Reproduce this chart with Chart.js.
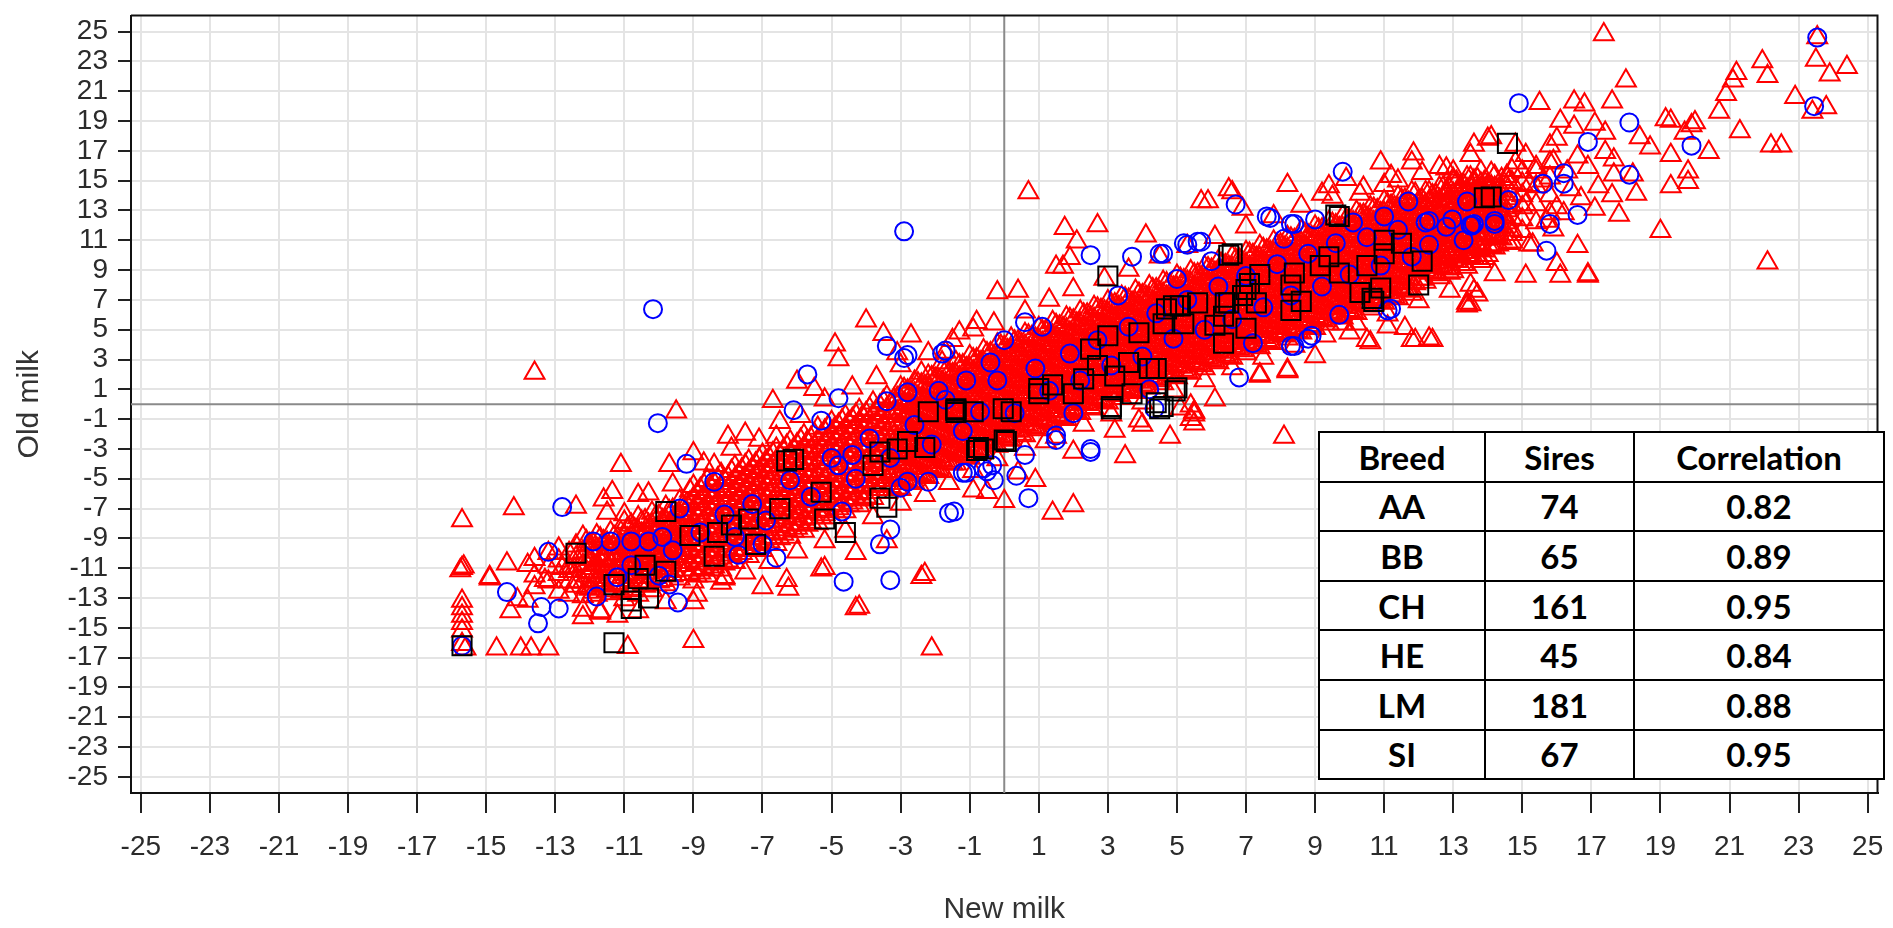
<!DOCTYPE html>
<html lang="en">
<head>
<meta charset="UTF-8">
<title>Old milk vs New milk</title>
<script src="https://cdn.jsdelivr.net/npm/chart.js"></script>
<style>
  body { margin: 0; background: #fff; }
  #wrap { position: relative; width: 1893px; height: 928px; }
  #breedTable {
    position: absolute; left: 1318px; top: 431px; width: 565px;
    border-collapse: collapse; table-layout: fixed; background: #fff;
    font-family: Lato, 'Open Sans', sans-serif; font-weight: 700; font-size: 33px; color: #000;
  }
  #breedTable td, #breedTable th { border: 2px solid #000; height: 47.6px; padding: 0; text-align: center; font-weight: 700; }
</style>
</head>
<body>
<div id="wrap">
  <canvas id="milkChart"></canvas>
  <table id="breedTable">
    <colgroup><col style="width:166px"><col style="width:149px"><col style="width:250px"></colgroup>
    <tbody id="breedBody"></tbody>
  </table>
</div>

<script>
// axis ticks (odd values only, like the original)
const tickValues = [-25,-23,-21,-19,-17,-15,-13,-11,-9,-7,-5,-3,-1,1,3,5,7,9,11,13,15,17,19,21,23,25];

// summary table
const breeds = ['AA', 'BB', 'CH', 'HE', 'LM', 'SI'];
const sires = [74, 65, 161, 45, 181, 67];
const correlations = ['0.82', '0.89', '0.95', '0.84', '0.88', '0.95'];

// red triangles - scattered points [new, old]
const redLowerLeft = [
  [-15.7,-7.8],[-15.7,-11.0],[-15.75,-11.15],[-15.65,-10.9],[-15.7,-13.2],[-15.7,-13.7],[-15.7,-14.2],[-15.7,-14.7],[-15.7,-15.2],[-15.7,-16.1],[-15.6,-16.4],
  [-14.7,-16.4],[-14.0,-16.4],[-13.7,-16.4],[-13.2,-16.4],[-10.9,-16.3],[-9.0,-15.9],[-2.1,-16.4],[-4.3,-13.7],[-2.4,-11.6],[-6.25,-12.4],[-5.3,-11.1],
  [-8.1,-11.7],[-14.9,-11.7],[-14.4,-10.7],[-13.8,-10.8],[-13.3,-11.8],[-12.2,-14.3],[-11.7,-14.0],[-11.2,-14.2],[-12.5,-11.2],[-9.0,-13.3],
  [-12.8,-11.0],[-12.6,-11.2],[-12.4,-11.9],[-12.2,-13.8],[-11.7,-13.9],[-14.1,-13.1],[-14.3,-13.9],[-13.8,-13.2],
  [-13.6,2.1],[-9.5,-0.5],[-4.0,5.6],[-4.9,4.0],[-4.8,3.0],[-3.5,4.7],[-3.1,3.4],[-6.7,0.2],[-5.5,1.0],[-2.4,2.1],[-1.8,2.8],
  [-8.0,-2.2],[-7.5,-2.0],[-6.6,-2.2],[-14.2,-7.0],[-12.4,-6.9],[-11.6,-6.4],[-11.35,-5.9],[-11.1,-4.1],[-10.6,-6.1],[-9.7,-4.1],[-9.0,-3.3],
  [-8.4,-4.1],[-11.0,-7.4],[-14.9,-11.6],[-4.3,-10.0],[-5.2,-11.0],[-6.3,-11.8],[-4.2,-13.6],[-2.3,-11.4],[-8.1,-11.6]
];
const redMiddle = [
  [0.7,14.2],[8.2,14.7],[11.85,16.8],[13.6,17.4],[14.1,17.9],[11.2,15.3],[12.1,15.5],[13.0,15.6],[9.2,14.1],[10.4,14.5],[11.0,14.7],[6.5,14.4],
  [5.9,13.6],[2.7,12.0],[2.1,10.9],[1.7,9.2],[-0.2,7.5],[0.4,7.6],[-0.8,5.5],[-1.3,4.8],[-1.7,3.5],[1.75,11.8],[1.5,9.2],[5.7,13.6],[6.6,14.2],
  [9.4,14.6],[10.9,16.2],[11.8,16.2],[14.8,17.4],
  [13.7,7.35],[13.5,6.7],[12.4,4.3],[10.6,4.15],[11.9,4.3],[8.2,2.3],[7.4,1.9],[8.1,-2.2],[4.8,-2.2],[3.5,-3.5],[5.5,-0.7],[3.9,-1.1],[3.2,-1.8],
  [1.2,-2.5],[2.0,-6.8],[1.4,-7.3],[0.0,-6.5],[5.5,-1.3],[5.5,-0.5],[4.0,-1.4],[2.0,-3.2],[0.9,-5.1],[-0.9,-5.8],[-0.5,-5.9],[5.4,-1.0],[5.4,-0.1],
  [5.1,-0.3],[13.5,8.0],[13.4,6.8],[12.3,4.4],[11.8,4.3],[10.5,4.3],[11.1,5.2],[9.8,5.4],[10.0,4.8],[15.3,10.7],[14.6,10.8],[12.9,8.8],[8.2,2.2],
  [7.4,2.0],[5.5,-0.55],[16.0,9.4],[16.9,8.6],[15.1,8.6],[13.9,9.8]
];
const redUpperRight = [
  [17.36,24.8],[23.54,24.6],[23.5,23.1],[23.9,22.1],[24.4,22.6],[21.95,23.0],[22.1,22.0],[21.2,22.2],[21.1,21.7],[20.9,20.8],[20.7,19.6],
  [22.9,20.6],[23.4,19.6],[23.8,19.9],[21.3,18.3],[22.2,17.35],[22.5,17.35],[22.1,9.5],[19.15,19.1],[19.7,18.2],[20.0,18.9],[19.9,18.7],
  [20.4,16.9],[19.3,16.7],[19.8,15.6],[19.8,14.9],[19.3,14.6],[18.0,21.7],[16.8,20.1],[15.5,20.2],[16.1,19.0],[17.1,18.8],[18.4,17.9],
  [18.7,17.2],[19.0,11.6],[17.8,12.7],[16.9,8.7],[16.1,8.6],[16.6,10.6],[13.6,7.6],[13.4,6.6],[14.0,17.8],[13.5,16.7],[15.1,16.7],[17.65,15.4],
  [17.65,16.4],[17.4,16.9],[16.0,17.8],[15.8,17.35],[16.7,13.8],[17.1,13.1],[15.2,10.7],[14.7,11.4],[14.3,10.7],[15.1,13.4],[15.2,14.7],
  [12.8,15.8],[13.0,15.1],[16.5,20.3],[17.6,20.3],[16.5,18.6],[17.4,18.2],[19.3,19.0],
  [14.8,16.2],[15.4,15.9],[15.9,16.3],[16.3,15.6],[16.6,16.6],[16.9,15.9],[15.6,15.0],[14.6,14.9],[16.4,14.4],[17.2,14.6],[16.0,13.2],[14.3,13.1],
  [18.2,15.4],[18.3,14.1],[17.6,14.0],[15.7,12.3],[14.1,15.5],[14.5,12.6],[13.8,14.4],[13.3,11.0],[14.0,10.0],[15.9,11.7],[16.2,12.8]
];
const redFringe = [
  [-11.5,-7.3],[-10.3,-6.0],[-9.6,-5.4],[-8.7,-4.0],[-7.9,-3.0],[-7.1,-2.4],[-6.5,-1.2],[-5.9,-0.8],[-5.2,0.3],[-4.4,1.1],[-3.7,1.8],[-3.0,2.6],
  [-2.2,3.4],[-1.5,4.3],[-0.9,5.0],[-0.3,5.4],[0.6,6.2],[1.3,7.0],[2.0,7.7],[2.9,8.4],[3.6,9.0],[4.5,9.9],[5.3,10.6],[6.1,11.2],[7.0,11.9],
  [7.8,12.6],[8.6,13.3],[9.5,13.9],[10.3,14.1],[11.4,15.0],[12.6,15.9],[-6.0,1.5],[-2.7,4.6],[1.9,9.8],[4.1,11.3],[6.9,13.1],[9.9,15.1],
  [-10.6,-13.9],[-9.8,-13.3],[-8.9,-12.8],[-8.2,-12.0],[-7.5,-11.3],[-6.8,-10.6],[-6.0,-9.9],[-5.2,-9.2],[-4.6,-8.5],[-3.8,-7.6],[-3.0,-6.7],
  [-2.3,-6.1],[-1.6,-5.3],[-0.9,-4.5],[-0.2,-3.7],[0.6,-3.0],[1.5,-2.2],[2.3,-1.4],[3.1,-0.7],[4.0,0.1],[4.9,0.9],[5.8,1.6],[6.6,2.4],[7.5,3.1],
  [8.4,3.9],[9.3,4.6],[10.2,5.4],[11.1,6.0],[12.0,6.9],[12.9,7.6],[14.2,8.7],[-7.0,-12.3],[-3.4,-9.2],[0.4,-4.6],[6.1,0.3],[9.0,3.2],[11.6,5.1]
];

// red triangles - the dense band, one row per column: [new, old, old, ...]
const redBandLeft = [
  [-13.6,-11.5,-10.4,-12.3],[-13.2,-10.9,-11.9,-10.0],[-12.9,-11.4,-10.5,-12.6,-9.7],[-12.6,-11.9,-10.9,-10.0,-12.8],[-12.4,-11.2,-10.3,-12.2,-9.5],
  [-12.2,-12.9,-11.9,-10.8,-9.9,-8.9],[-12.0,-12.4,-11.3,-10.4,-9.4],[-11.8,-12.8,-11.8,-10.8,-9.7,-8.8],[-11.6,-12.2,-11.2,-10.3,-9.2],
  [-11.4,-12.7,-11.6,-10.7,-9.7,-8.6],[-11.2,-12.1,-11.1,-10.1,-9.0],[-11.0,-13.1,-12.2,-11.4,-10.5,-9.6,-8.8,-7.9],[-10.8,-12.5,-11.6,-10.7,-9.9,-9.0,-8.1],
  [-10.6,-12.8,-11.9,-11.0,-10.2,-9.3,-8.5,-7.6],[-10.4,-12.2,-11.3,-10.4,-9.6,-8.7,-7.8],[-10.2,-12.5,-11.6,-10.8,-9.9,-9.0,-8.1,-7.3],
  [-10.0,-11.9,-11.0,-10.1,-9.3,-8.4,-7.5],[-9.8,-12.1,-11.2,-10.4,-9.5,-8.6,-7.8,-6.9],[-9.6,-11.5,-10.6,-9.7,-8.9,-8.0,-7.1],
  [-9.4,-11.7,-10.8,-10.0,-9.1,-8.2,-7.4,-6.5],[-9.2,-11.1,-10.2,-9.3,-8.5,-7.6,-6.7],
  [-9.0,-11.9,-11.1,-10.3,-9.5,-8.7,-7.9,-7.1,-6.3,-5.5],[-8.8,-11.3,-10.5,-9.7,-8.9,-8.1,-7.3,-6.5,-5.7],
  [-8.6,-11.5,-10.7,-9.9,-9.1,-8.3,-7.5,-6.7,-5.9,-5.1],[-8.4,-10.9,-10.1,-9.3,-8.5,-7.7,-6.9,-6.1,-5.3],
  [-8.2,-11.1,-10.3,-9.5,-8.7,-7.9,-7.1,-6.3,-5.5,-4.7],[-8.0,-10.5,-9.7,-8.9,-8.1,-7.3,-6.5,-5.7,-4.9],
  [-7.8,-10.6,-9.8,-9.0,-8.2,-7.4,-6.6,-5.8,-5.0,-4.2],[-7.6,-10.0,-9.2,-8.4,-7.6,-6.8,-6.0,-5.2,-4.4],
  [-7.4,-10.2,-9.4,-8.6,-7.8,-7.0,-6.2,-5.4,-4.6,-3.8],[-7.2,-9.6,-8.8,-8.0,-7.2,-6.4,-5.6,-4.8,-4.0],
  [-7.0,-9.8,-9.0,-8.2,-7.4,-6.6,-5.8,-5.0,-4.2,-3.4],[-6.8,-9.2,-8.4,-7.6,-6.8,-6.0,-5.2,-4.4,-3.6],
  [-6.6,-9.4,-8.6,-7.8,-7.0,-6.2,-5.4,-4.6,-3.8,-3.0],[-6.4,-8.7,-7.9,-7.1,-6.3,-5.5,-4.7,-3.9,-3.1],
  [-6.2,-8.9,-8.1,-7.3,-6.5,-5.7,-4.9,-4.1,-3.3,-2.5],[-6.0,-8.3,-7.5,-6.7,-5.9,-5.1,-4.3,-3.5,-2.7],
  [-5.8,-8.5,-7.7,-6.9,-6.1,-5.3,-4.5,-3.7,-2.9,-2.1],[-5.6,-7.9,-7.1,-6.3,-5.5,-4.7,-3.9,-3.1,-2.3],
  [-5.4,-8.0,-7.2,-6.4,-5.6,-4.8,-4.0,-3.2,-2.4,-1.6],[-5.2,-7.4,-6.6,-5.8,-5.0,-4.2,-3.4,-2.6,-1.8],
  [-5.0,-7.6,-6.8,-6.0,-5.2,-4.4,-3.6,-2.8,-2.0,-1.2],[-4.8,-7.0,-6.2,-5.4,-4.6,-3.8,-3.0,-2.2,-1.4],
  [-4.6,-7.2,-6.4,-5.6,-4.8,-4.0,-3.2,-2.4,-1.6,-0.8],[-4.4,-6.6,-5.8,-5.0,-4.2,-3.4,-2.6,-1.8,-1.0],
  [-4.2,-6.8,-6.0,-5.2,-4.4,-3.6,-2.8,-2.0,-1.2,-0.4],[-4.0,-6.2,-5.4,-4.6,-3.8,-3.0,-2.2,-1.4,-0.6],
  [-3.8,-6.3,-5.5,-4.7,-3.9,-3.1,-2.3,-1.5,-0.7,0.1],[-3.6,-5.7,-4.9,-4.1,-3.3,-2.5,-1.7,-0.9,-0.1],
  [-3.4,-5.9,-5.1,-4.3,-3.5,-2.7,-1.9,-1.1,-0.3,0.5],[-3.2,-5.3,-4.5,-3.7,-2.9,-2.1,-1.3,-0.5,0.3]
];
const redBandMid = [
  [-3.0,-5.7,-4.9,-4.0,-3.2,-2.3,-1.4,-0.6,0.3,1.1],[-2.8,-5.1,-4.2,-3.4,-2.5,-1.7,-0.8,0.0,0.9],
  [-2.6,-5.3,-4.5,-3.6,-2.8,-1.9,-1.0,-0.2,0.7,1.5],[-2.4,-4.7,-3.8,-3.0,-2.1,-1.3,-0.4,0.4,1.3],
  [-2.2,-4.9,-4.1,-3.2,-2.4,-1.5,-0.6,0.2,1.1,1.9],[-2.0,-4.3,-3.4,-2.6,-1.7,-0.9,0.0,0.8,1.7],
  [-1.8,-4.5,-3.7,-2.8,-2.0,-1.1,-0.2,0.6,1.5,2.3],[-1.6,-3.9,-3.0,-2.2,-1.3,-0.5,0.4,1.2,2.1],
  [-1.4,-4.0,-3.2,-2.3,-1.5,-0.6,0.3,1.1,2.0,2.8],[-1.2,-3.4,-2.5,-1.7,-0.8,0.0,0.9,1.7,2.6],
  [-1.0,-3.6,-2.8,-1.9,-1.1,-0.2,0.7,1.5,2.4,3.2],[-0.8,-3.0,-2.1,-1.3,-0.4,0.4,1.3,2.1,3.0],
  [-0.6,-3.2,-2.4,-1.5,-0.7,0.2,1.1,1.9,2.8,3.6],[-0.4,-2.6,-1.7,-0.9,0.0,0.8,1.7,2.5,3.4],
  [-0.2,-2.8,-2.0,-1.1,-0.3,0.6,1.5,2.3,3.2,4.0],[0.0,-2.2,-1.3,-0.5,0.4,1.2,2.1,2.9,3.8],
  [0.2,-2.4,-1.6,-0.7,0.1,1.0,1.9,2.7,3.6,4.4],[0.4,-1.8,-1.0,-0.1,0.8,1.6,2.4,3.3,4.2],
  [0.6,-2.1,-1.3,-0.4,0.5,1.3,2.2,3.0,3.9,4.7],[0.8,-1.5,-0.6,0.2,1.1,1.9,2.8,3.6,4.5],
  [1.0,-1.7,-0.9,0.0,0.8,1.7,2.6,3.4,4.3,5.1],[1.2,-1.1,-0.2,0.6,1.5,2.3,3.1,4.0,4.9],
  [1.4,-1.3,-0.5,0.4,1.2,2.1,2.9,3.8,4.6,5.5],[1.6,-0.8,0.1,0.9,1.8,2.6,3.5,4.3,5.2],
  [1.8,-1.0,-0.2,0.7,1.5,2.4,3.3,4.1,5.0,5.8],[2.0,-0.4,0.5,1.3,2.2,3.0,3.9,4.7,5.6],
  [2.2,-0.6,0.2,1.1,1.9,2.8,3.6,4.5,5.4,6.2],[2.4,0.0,0.8,1.7,2.6,3.4,4.2,5.1,6.0],
  [2.6,-0.3,0.5,1.4,2.2,3.1,4.0,4.8,5.7,6.5],[2.8,0.3,1.2,2.0,2.9,3.7,4.6,5.4,6.3],
  [3.0,0.1,0.9,1.8,2.6,3.5,4.4,5.2,6.1,6.9],[3.2,0.7,1.5,2.4,3.3,4.1,4.9,5.8,6.7],
  [3.4,0.4,1.2,2.1,2.9,3.8,4.7,5.5,6.4,7.2],[3.6,1.0,1.9,2.7,3.6,4.4,5.3,6.1,7.0],
  [3.8,0.8,1.6,2.5,3.3,4.2,5.0,5.9,6.8,7.6],[4.0,1.3,2.2,3.0,3.9,4.7,5.6,6.4,7.3],
  [4.2,1.1,1.9,2.8,3.6,4.5,5.4,6.2,7.1,7.9],[4.4,1.7,2.5,3.4,4.3,5.1,5.9,6.8,7.7],
  [4.6,1.4,2.2,3.1,3.9,4.8,5.7,6.5,7.4,8.2],[4.8,2.0,2.9,3.7,4.6,5.4,6.3,7.1,8.0],
  [5.0,1.8,2.6,3.5,4.3,5.2,6.0,6.9,7.8,8.6],[5.2,2.3,3.2,4.0,4.9,5.7,6.6,7.4,8.3],
  [5.4,2.1,2.9,3.8,4.6,5.5,6.4,7.2,8.1,8.9],[5.6,2.7,3.5,4.4,5.3,6.1,6.9,7.8,8.7],
  [5.8,2.4,3.2,4.1,4.9,5.8,6.7,7.5,8.4,9.2]
];
const redBandRight = [
  [6.0,3.0,3.9,4.7,5.6,6.4,7.3,8.1,9.0],[6.2,2.8,3.6,4.5,5.3,6.2,7.0,7.9,8.8,9.6],
  [6.4,3.3,4.2,5.0,5.9,6.7,7.6,8.4,9.3],[6.6,3.1,3.9,4.8,5.6,6.5,7.4,8.2,9.1,9.9],
  [6.8,3.7,4.5,5.4,6.3,7.1,7.9,8.8,9.7],[7.0,3.4,4.2,5.1,5.9,6.8,7.7,8.5,9.4,10.2],
  [7.2,4.0,4.9,5.7,6.6,7.4,8.3,9.1,10.0],[7.4,3.8,4.6,5.5,6.3,7.2,8.0,8.9,9.8,10.6],
  [7.6,4.3,5.2,6.0,6.9,7.7,8.6,9.4,10.3],[7.8,4.1,4.9,5.8,6.6,7.5,8.4,9.2,10.1,10.9],
  [8.0,4.7,5.5,6.4,7.3,8.1,8.9,9.8,10.7],[8.2,4.4,5.2,6.1,6.9,7.8,8.7,9.5,10.4,11.2],
  [8.4,5.0,5.9,6.7,7.6,8.4,9.3,10.1,11.0],[8.6,4.8,5.6,6.5,7.3,8.2,9.0,9.9,10.8,11.6],
  [8.8,5.3,6.2,7.0,7.9,8.7,9.6,10.4,11.3],[9.0,5.1,5.9,6.8,7.6,8.5,9.4,10.2,11.1,11.9],
  [9.2,5.7,6.5,7.4,8.3,9.1,9.9,10.8,11.7],[9.4,5.4,6.2,7.1,7.9,8.8,9.7,10.5,11.4,12.2],
  [9.6,6.0,6.9,7.7,8.6,9.4,10.3,11.1,12.0],[9.8,5.8,6.6,7.5,8.3,9.2,10.0,10.9,11.8,12.6],
  [10.0,6.3,7.2,8.0,8.9,9.7,10.6,11.4,12.3],[10.2,6.1,6.9,7.8,8.6,9.5,10.4,11.2,12.1,12.9],
  [10.4,6.7,7.5,8.4,9.3,10.1,10.9,11.8,12.7],[10.6,6.4,7.2,8.1,8.9,9.8,10.7,11.5,12.4,13.2],
  [10.8,7.0,7.9,8.7,9.6,10.4,11.3,12.1,13.0],[11.0,6.8,7.6,8.5,9.3,10.2,11.0,11.9,12.8,13.6],
  [11.2,7.3,8.2,9.0,9.9,10.7,11.6,12.4,13.3],[11.4,7.1,7.9,8.8,9.6,10.5,11.4,12.2,13.1,13.9],
  [11.6,7.7,8.5,9.4,10.3,11.1,11.9,12.8,13.7],[11.8,7.4,8.2,9.1,9.9,10.8,11.7,12.5,13.4,14.2],
  [12.0,8.4,9.1,9.9,10.6,11.4,12.1,12.9,13.6],[12.2,8.2,9.0,9.7,10.5,11.2,11.9,12.7,13.4,14.2],
  [12.4,8.8,9.5,10.3,11.0,11.8,12.5,13.3,14.0],[12.6,8.5,9.3,10.0,10.8,11.5,12.2,13.0,13.7,14.5],
  [12.8,9.1,9.8,10.6,11.3,12.1,12.8,13.6,14.3],[13.0,8.9,9.7,10.4,11.2,11.9,12.6,13.4,14.1,14.9],
  [13.2,9.4,10.1,10.9,11.6,12.4,13.1,13.9,14.6],[13.4,9.2,10.0,10.7,11.5,12.2,12.9,13.7,14.4,15.2],
  [13.6,9.8,10.5,11.3,12.0,12.8,13.5,14.3,15.0],[13.8,9.6,10.4,11.1,11.9,12.6,13.3,14.1,14.8,15.6],
  [14.0,10.7,11.5,12.3,13.1,13.9,14.7],[14.2,10.5,11.3,12.1,12.9,13.7,14.5,15.3],[14.4,11.1,11.9,12.7,13.5,14.3,15.1],
  [14.7,10.9,11.7,12.5,13.3,14.1,14.9,15.7],[15.0,11.6,12.4,13.2,14.0,14.8,15.6],[15.4,12.2,13.4,14.6,15.6],[15.8,12.8,14.0,15.2,16.2]
];
// red triangles - second, offset layer inside the band (the solid red core)
const redBandInner = [
  [-12.1,-12.3,-11.5,-10.7,-9.9,-9.2],[-11.9,-12.6,-11.8,-11.0,-10.2,-9.4],[-11.7,-12.1,-11.3,-10.5,-9.7,-9.0],
  [-11.5,-12.5,-11.6,-10.9,-10.1,-9.3],[-11.3,-12.0,-11.2,-10.4,-9.6,-8.9],[-11.1,-12.6,-11.8,-11.0,-10.2,-9.4,-8.6],
  [-10.9,-12.2,-11.4,-10.6,-9.8,-9.0,-8.3],[-10.7,-12.4,-11.6,-10.8,-10.0,-9.2,-8.4],[-10.5,-11.9,-11.1,-10.3,-9.5,-8.7,-7.9],
  [-10.3,-12.1,-11.3,-10.5,-9.7,-8.9,-8.1],[-10.1,-11.6,-10.8,-10.0,-9.2,-8.4,-7.6],[-9.9,-11.8,-11.0,-10.2,-9.4,-8.6,-7.8],
  [-9.7,-11.2,-10.4,-9.6,-8.8,-8.0,-7.2],[-9.5,-11.4,-10.6,-9.8,-9.0,-8.2,-7.4],[-9.3,-10.8,-10.0,-9.2,-8.4,-7.6,-6.8],
  [-9.1,-11.4,-10.6,-9.8,-9.0,-8.2,-7.4,-6.6,-5.8],[-8.9,-11.5,-10.7,-9.9,-9.1,-8.3,-7.5,-6.7,-6.0],
  [-8.7,-11.0,-10.2,-9.4,-8.6,-7.8,-7.0,-6.2,-5.4],[-8.5,-11.1,-10.3,-9.5,-8.7,-7.9,-7.1,-6.3,-5.5],
  [-8.3,-10.6,-9.8,-9.0,-8.2,-7.4,-6.6,-5.8,-5.0],[-8.1,-10.7,-9.9,-9.1,-8.3,-7.5,-6.7,-5.9,-5.1],
  [-7.9,-10.1,-9.3,-8.5,-7.7,-6.9,-6.1,-5.3,-4.5],[-7.7,-10.2,-9.4,-8.7,-7.9,-7.1,-6.3,-5.5,-4.7],
  [-7.5,-9.7,-8.9,-8.1,-7.3,-6.5,-5.7,-4.9,-4.1],[-7.3,-9.8,-9.0,-8.3,-7.5,-6.7,-5.9,-5.1,-4.3],
  [-7.1,-9.3,-8.5,-7.7,-6.9,-6.1,-5.3,-4.5,-3.7],[-6.9,-9.4,-8.6,-7.8,-7.0,-6.2,-5.4,-4.6,-3.8],
  [-6.7,-8.9,-8.1,-7.3,-6.5,-5.7,-4.9,-4.1,-3.3],[-6.5,-9.0,-8.2,-7.4,-6.6,-5.8,-5.0,-4.2,-3.4],
  [-6.3,-8.4,-7.6,-6.8,-6.0,-5.2,-4.4,-3.6,-2.8],[-6.1,-8.5,-7.7,-7.0,-6.2,-5.4,-4.6,-3.8,-3.0],
  [-5.9,-8.0,-7.2,-6.4,-5.6,-4.8,-4.0,-3.2,-2.4],[-5.7,-8.1,-7.3,-6.5,-5.7,-4.9,-4.1,-3.3,-2.5],
  [-5.5,-7.6,-6.8,-6.0,-5.2,-4.4,-3.6,-2.8,-2.0],[-5.3,-7.6,-6.8,-6.1,-5.3,-4.5,-3.7,-2.9,-2.1],
  [-5.1,-7.1,-6.3,-5.5,-4.7,-3.9,-3.1,-2.3,-1.5],[-4.9,-7.2,-6.4,-5.6,-4.8,-4.0,-3.2,-2.4,-1.6],
  [-4.7,-6.7,-5.9,-5.1,-4.3,-3.5,-2.7,-1.9,-1.1],[-4.5,-6.8,-6.0,-5.2,-4.4,-3.6,-2.8,-2.0,-1.2],
  [-4.3,-6.3,-5.5,-4.7,-3.9,-3.1,-2.3,-1.5,-0.7],[-4.1,-6.4,-5.6,-4.8,-4.0,-3.2,-2.4,-1.6,-0.8],
  [-3.9,-5.9,-5.1,-4.3,-3.5,-2.7,-1.9,-1.1,-0.3],[-3.7,-5.9,-5.1,-4.4,-3.6,-2.8,-2.0,-1.2,-0.4],
  [-3.5,-5.4,-4.6,-3.8,-3.0,-2.2,-1.4,-0.6,0.2],[-3.3,-5.5,-4.7,-4.0,-3.2,-2.4,-1.6,-0.8,0.0],
  [-3.1,-5.6,-4.8,-3.9,-3.1,-2.2,-1.4,-0.5,0.4],[-2.9,-5.0,-4.2,-3.3,-2.5,-1.6,-0.8,0.1,1.0],
  [-2.7,-5.2,-4.3,-3.5,-2.6,-1.8,-0.9,-0.1,0.8],[-2.5,-4.6,-3.7,-2.9,-2.0,-1.2,-0.3,0.5,1.4],
  [-2.3,-4.8,-3.9,-3.1,-2.2,-1.4,-0.5,0.3,1.2],[-2.1,-4.2,-3.3,-2.5,-1.6,-0.8,0.1,0.9,1.8],
  [-1.9,-4.4,-3.5,-2.7,-1.8,-1.0,-0.1,0.7,1.6],[-1.7,-3.8,-2.9,-2.1,-1.2,-0.4,0.5,1.4,2.2],
  [-1.5,-4.0,-3.1,-2.3,-1.4,-0.6,0.3,1.2,2.0],[-1.3,-3.3,-2.5,-1.6,-0.8,0.1,0.9,1.8,2.6],
  [-1.1,-3.5,-2.7,-1.8,-1.0,-0.1,0.7,1.6,2.4],[-0.9,-2.9,-2.1,-1.2,-0.4,0.5,1.3,2.2,3.0],
  [-0.7,-3.1,-2.3,-1.4,-0.6,0.3,1.1,2.0,2.8],[-0.5,-2.5,-1.7,-0.8,0.0,0.9,1.7,2.6,3.4],
  [-0.3,-2.7,-1.9,-1.0,-0.2,0.7,1.5,2.4,3.2],[-0.1,-2.1,-1.3,-0.4,0.5,1.3,2.2,3.0,3.9],
  [0.1,-2.3,-1.5,-0.6,0.2,1.1,1.9,2.8,3.6],[0.3,-1.7,-0.9,0.0,0.8,1.7,2.5,3.4,4.2],
  [0.5,-2.0,-1.1,-0.3,0.6,1.5,2.3,3.2,4.0],[0.7,-1.4,-0.5,0.3,1.2,2.0,2.9,3.7,4.6],
  [0.9,-1.6,-0.7,0.1,1.0,1.8,2.7,3.5,4.4],[1.1,-1.0,-0.2,0.7,1.5,2.4,3.2,4.1,4.9],
  [1.3,-1.2,-0.4,0.5,1.3,2.2,3.0,3.9,4.7],[1.5,-0.7,0.2,1.1,1.9,2.8,3.6,4.5,5.3],
  [1.7,-0.9,0.0,0.8,1.7,2.5,3.4,4.2,5.1],[1.9,-0.3,0.6,1.4,2.3,3.1,4.0,4.8,5.7],
  [2.1,-0.5,0.3,1.2,2.0,2.9,3.7,4.6,5.4],[2.3,0.1,0.9,1.8,2.6,3.5,4.3,5.2,6.0],
  [2.5,-0.2,0.7,1.6,2.4,3.3,4.1,5.0,5.8],[2.7,0.4,1.3,2.1,3.0,3.8,4.7,5.5,6.4],
  [2.9,0.2,1.1,1.9,2.8,3.6,4.5,5.3,6.2],[3.1,0.8,1.6,2.5,3.3,4.2,5.0,5.9,6.7],
  [3.3,0.6,1.4,2.3,3.1,4.0,4.8,5.7,6.5],[3.5,1.1,2.0,2.8,3.7,4.5,5.4,6.2,7.1],
  [3.7,0.9,1.7,2.6,3.4,4.3,5.1,6.0,6.8],[3.9,1.5,2.3,3.2,4.0,4.9,5.7,6.6,7.4],
  [4.1,1.2,2.1,2.9,3.8,4.6,5.5,6.3,7.2],[4.3,1.8,2.6,3.5,4.3,5.2,6.0,6.9,7.7],
  [4.5,1.6,2.4,3.3,4.1,5.0,5.8,6.7,7.5],[4.7,2.1,3.0,3.8,4.7,5.5,6.4,7.2,8.1],
  [4.9,1.9,2.7,3.6,4.4,5.3,6.1,7.0,7.8],[5.1,2.5,3.3,4.2,5.0,5.9,6.7,7.6,8.4],
  [5.3,2.2,3.1,3.9,4.8,5.6,6.5,7.3,8.2],[5.5,2.8,3.6,4.5,5.3,6.2,7.0,7.9,8.7],
  [5.7,2.6,3.4,4.3,5.1,6.0,6.8,7.7,8.5],[5.9,3.1,4.0,4.8,5.7,6.5,7.4,8.2,9.1],
  [6.1,2.9,3.7,4.6,5.4,6.3,7.1,8.0,8.8],[6.3,3.5,4.3,5.2,6.0,6.9,7.7,8.6,9.4],
  [6.5,3.2,4.1,4.9,5.8,6.6,7.5,8.3,9.2],[6.7,3.8,4.6,5.5,6.3,7.2,8.0,8.9,9.7],
  [6.9,3.6,4.4,5.3,6.1,7.0,7.8,8.7,9.5],[7.1,4.1,5.0,5.8,6.7,7.5,8.4,9.2,10.1],
  [7.3,3.9,4.7,5.6,6.4,7.3,8.1,9.0,9.8],[7.5,4.5,5.3,6.2,7.0,7.9,8.7,9.6,10.4],
  [7.7,4.2,5.1,5.9,6.8,7.6,8.5,9.3,10.2],[7.9,4.8,5.6,6.5,7.3,8.2,9.0,9.9,10.7],
  [8.1,4.6,5.4,6.3,7.1,8.0,8.8,9.7,10.5],[8.3,5.1,6.0,6.8,7.7,8.5,9.4,10.2,11.1],
  [8.5,4.9,5.7,6.6,7.4,8.3,9.1,10.0,10.8],[8.7,5.5,6.3,7.2,8.0,8.9,9.7,10.6,11.4],
  [8.9,5.2,6.1,6.9,7.8,8.6,9.5,10.3,11.2],[9.1,5.8,6.6,7.5,8.3,9.2,10.0,10.9,11.7],
  [9.3,5.6,6.4,7.3,8.1,9.0,9.8,10.7,11.5],[9.5,6.1,7.0,7.8,8.7,9.5,10.4,11.2,12.1],
  [9.7,5.9,6.7,7.6,8.4,9.3,10.1,11.0,11.8],[9.9,6.5,7.3,8.2,9.0,9.9,10.7,11.6,12.4],
  [10.1,6.2,7.1,7.9,8.8,9.6,10.5,11.3,12.2],[10.3,6.8,7.6,8.5,9.3,10.2,11.0,11.9,12.7],
  [10.5,6.6,7.4,8.3,9.1,10.0,10.8,11.7,12.5],[10.7,7.1,8.0,8.8,9.7,10.5,11.4,12.2,13.1],
  [10.9,6.9,7.7,8.6,9.4,10.3,11.1,12.0,12.8],[11.1,7.5,8.3,9.2,10.0,10.9,11.7,12.6,13.4],
  [11.3,7.2,8.1,8.9,9.8,10.6,11.5,12.3,13.2],[11.5,7.8,8.6,9.5,10.3,11.2,12.0,12.9,13.7],
  [11.7,7.6,8.4,9.3,10.1,11.0,11.8,12.7,13.5],[11.9,8.1,9.0,9.8,10.7,11.5,12.4,13.2,14.1],
  [12.1,8.4,9.2,9.9,10.7,11.4,12.2,12.9,13.7],[12.3,8.9,9.7,10.5,11.3,12.0,12.8,13.5,14.2],
  [12.5,8.7,9.5,10.2,11.0,11.7,12.5,13.2,14.0],[12.7,9.2,10.0,10.8,11.6,12.3,13.1,13.8,14.5],
  [12.9,9.1,9.9,10.6,11.4,12.1,12.9,13.6,14.4],[13.1,9.6,10.4,11.2,12.0,12.7,13.5,14.2,14.9],
  [13.3,9.4,10.2,10.9,11.7,12.4,13.2,13.9,14.7],[13.5,9.9,10.7,11.5,12.3,13.0,13.8,14.5,15.2],
  [13.7,9.8,10.6,11.3,12.1,12.8,13.6,14.3,15.1],[13.9,10.3,11.1,11.9,12.7,13.4,14.2,14.9],
  [14.1,10.6,11.4,12.2,13.0,13.8,14.6],[14.3,11.2,12.0,12.8,13.6,14.4],[14.55,11.4,12.2,13.0,13.8,14.6,15.3]
];

// blue circles
const blueCircles = [
  [-10.17,6.38],[-10.03,-1.27],[-5.7,2.0],[-4.8,0.4],[-6.1,-0.4],[-3.4,3.9],[-2.9,3.1],[-1.8,3.4],[-9.2,-4.0],[-8.4,-5.2],[-12.8,-6.9],[-9.4,-7.0],
  [-1.45,-7.2],[-3.3,-11.8],[-4.65,-11.9],[-6.6,-10.3],[-3.6,-9.4],[-3.3,-8.4],[-4.7,-7.2],[-13.2,-9.9],[-11.9,-9.2],[-11.4,-9.2],[-10.8,-9.2],
  [-10.3,-9.2],[-9.9,-8.9],[-7.7,-10.1],[-7.0,-9.4],[-4.4,-3.4],[-4.8,-4.1],[-3.4,0.2],[-2.8,0.8],[-1.9,0.9],[-1.1,1.6],[-0.4,2.8],[-0.35,-4.1],
  [-2.8,-5.2],[-2.2,-5.2],[-1.2,-4.6],[-0.6,-4.3],[-14.4,-12.6],[-13.4,-13.6],[-12.9,-13.7],[-13.5,-14.7],[-11.8,-12.9],[-9.45,-13.3],[-9.7,-12.1],
  [-15.7,-16.2],[9.8,15.6],[6.7,13.4],[7.7,12.5],[8.4,12.1],[9.0,12.4],[10.1,12.2],[11.7,13.6],[13.6,12.1],[12.97,12.4],[12.3,12.3],[2.5,10.0],
  [3.7,9.9],[4.6,10.1],[5.3,10.7],[5.7,10.9],[0.6,5.5],[0.0,4.3],[-1.7,3.6],[-2.8,3.3],[-2.9,11.6],[8.9,4.6],[8.4,3.9],[11.2,6.4],[6.8,1.8],
  [2.5,-3.0],[1.5,-2.1],[0.6,-3.4],[0.7,-6.3],[2.5,-3.2],[1.5,-2.4],[4.35,-0.3],[0.35,-4.8],[-0.3,-5.1],[-0.5,-4.5],[-1.1,-4.6],[-1.6,-7.3],
  [11.1,6.3],[8.3,3.9],[8.8,4.4],[4.5,10.1],[5.2,10.8],[5.6,10.9],[7.6,12.6],[8.3,12.1],[15.7,10.3],[14.2,12.3],[13.5,12.0],[12.2,12.2],
  [23.54,24.6],[23.45,20.0],[19.9,17.35],[14.9,20.2],[18.1,18.9],[16.9,17.6],[13.4,13.6],[14.6,13.7],[15.6,14.8],[16.2,15.5],[16.2,14.8],
  [18.1,15.4],[15.8,12.1],[16.6,12.7],[14.2,12.1],[13.55,12.0],
  [-8.8,-8.6],[-8.1,-7.4],[-7.3,-6.7],[-6.9,-7.8],[-6.2,-5.1],[-5.6,-6.2],[-5.0,-3.6],[-4.3,-5.0],[-3.9,-2.3],[-3.3,-3.6],[-2.6,-1.4],[-2.1,-2.7],
  [-1.7,0.3],[-1.2,-1.8],[-0.7,-0.5],[-0.2,1.6],[0.3,-0.6],[0.9,2.4],[1.3,0.9],[1.9,3.4],[2.2,1.6],[2.7,4.3],[3.1,2.6],[3.6,5.2],[4.0,3.2],
  [4.4,6.1],[4.9,4.4],[5.3,7.0],[5.8,5.0],[6.2,7.9],[6.6,5.7],[7.0,8.6],[7.5,6.5],[7.9,9.4],[8.3,7.3],[8.8,10.1],[9.2,7.9],[9.6,10.8],[10.0,8.7],
  [10.5,11.2],[10.9,9.3],[11.4,11.7],[11.8,9.9],[12.3,10.7],[12.8,11.9],[13.3,11.0],[-9.6,-9.8],[-10.8,-10.8],[-10.0,-11.5],[-11.2,-11.6],
  [-7.8,-8.9],[5.0,8.4],[3.3,7.3],[7.2,4.1],[2.0,-0.6],[9.7,6.0],[-5.3,-1.1],[1.1,5.2],[6.0,9.6],[-3.0,-5.6],[11.0,12.6],[8.1,11.1],[4.2,1.0]
];

// black squares
const blackSquares = [
  [-15.7,-16.2],[-11.3,-16.0],[-10.8,-13.7],[-10.3,-13.0],[-11.3,-12.1],[-10.6,-11.7],[-9.8,-11.2],
  [-6.1,-3.7],[-6.3,-3.8],[-2.2,-0.5],[-1.4,-0.4],[-0.9,-0.5],[-0.6,-3.0],[-3.6,-3.2],[-3.1,-3.0],[-3.8,-4.1],[-5.3,-5.9],[-3.6,-6.3],
  [-3.4,-6.9],[-4.6,-8.6],[-5.2,-7.7],[-6.5,-7.0],[-7.4,-7.7],[-7.9,-8.1],[-8.3,-8.6],[-9.1,-8.8],[-9.8,-7.2],[-12.4,-10.0],[-7.2,-9.4],
  [-8.4,-10.2],[-10.4,-10.8],[-10.8,-13.2],
  [9.7,12.6],[14.1,13.9],[6.6,10.1],[3.0,8.6],[12.0,8.0],[10.7,6.9],[10.3,7.5],[4.6,-0.15],[5.0,1.1],[3.1,-0.15],[0.0,-2.4],[-0.75,-2.9],
  [0.06,-2.5],[-0.8,-3.1],[-1.4,-0.55],[-0.03,-0.3],[1.0,0.7],[2.0,0.7],[3.1,-0.3],[3.7,0.7],[4.5,-0.3],
  [4.4,0.1],[4.95,0.9],[4.4,2.4],[10.65,7.1],[10.9,7.8],[12.1,9.6],[11.5,10.8],[11.0,11.0],[11.0,10.1],[9.6,12.7],[9.4,9.9],[9.15,9.3],
  [9.7,8.8],[8.4,8.8],[8.3,8.0],[8.6,6.9],[8.3,6.3],[7.4,8.7],[7.1,8.1],[6.9,7.3],[6.5,6.8],[6.35,5.9],[7.0,5.1],[6.1,5.3],[5.6,6.8],
  [5.2,5.4],[4.9,6.6],[4.6,5.4],[6.35,4.1],[6.5,10.0],[10.5,9.3],[14.57,17.5],[13.9,13.85],
  [1.0,1.05],[1.4,1.3],[2.3,1.7],[2.7,2.6],[2.5,3.7],[3.0,4.6],[3.2,1.9],[3.9,4.8],[4.7,6.4],[5.1,6.6],[6.4,6.8],[7.0,7.7],[7.3,6.8],
  [4.2,2.4],[3.6,2.8],[-1.4,-0.3],[-2.3,-2.9],[-2.8,-2.5],[0.2,-0.5]
];

const pairs = list => list.map(([x, y]) => ({x, y}));
const columns = list => list.flatMap(([x, ...ys]) => ys.map(y => ({x, y})));

const redPoints = [
  ...columns(redBandLeft), ...columns(redBandMid), ...columns(redBandRight), ...columns(redBandInner),
  ...pairs(redFringe), ...pairs(redLowerLeft), ...pairs(redMiddle), ...pairs(redUpperRight)
];

// table
document.getElementById('breedBody').innerHTML =
  '<tr><td>Breed</td><td>Sires</td><td>Correlation</td></tr>' +
  breeds.map((b, i) => `<tr><td>${b}</td><td>${sires[i]}</td><td>${correlations[i]}</td></tr>`).join('');

// zero reference lines + top/right frame
const framePlugin = {
  id: 'frame',
  beforeDatasetsDraw(chart) {
    const {ctx, chartArea: a, scales: {x, y}} = chart;
    const x0 = x.getPixelForValue(0);
    const y0 = y.getPixelForValue(0);
    ctx.save();
    ctx.strokeStyle = '#8a8a8a';
    ctx.lineWidth = 2;
    ctx.beginPath();
    ctx.moveTo(x0, a.top); ctx.lineTo(x0, a.bottom);
    ctx.moveTo(a.left, y0); ctx.lineTo(a.right, y0);
    ctx.stroke();
    ctx.strokeStyle = '#111';
    ctx.beginPath();
    ctx.moveTo(a.left, a.top); ctx.lineTo(a.right, a.top); ctx.lineTo(a.right, a.bottom);
    ctx.stroke();
    ctx.restore();
  }
};

const tickFont = {family: "'Liberation Sans', Arial, sans-serif", size: 28};
const titleFont = {family: "'Liberation Sans', Arial, sans-serif", size: 30};
const oddTicks = scale => { scale.ticks = tickValues.map(v => ({value: v})); };

new Chart(document.getElementById('milkChart'), {
  type: 'scatter',
  data: {
    datasets: [
      {label: 'Squares', data: pairs(blackSquares), pointStyle: 'rect', radius: 13.5, borderColor: '#000', backgroundColor: 'rgba(0,0,0,0)', borderWidth: 2, order: 1},
      {label: 'Circles', data: pairs(blueCircles), pointStyle: 'circle', radius: 9, borderColor: '#0000ff', backgroundColor: 'rgba(0,0,0,0)', borderWidth: 2, order: 2},
      {label: 'Triangles', data: redPoints, pointStyle: 'triangle', radius: 11.5, borderColor: '#ff0000', backgroundColor: 'rgba(0,0,0,0)', borderWidth: 2, order: 3}
    ]
  },
  options: {
    responsive: true,
    maintainAspectRatio: false,
    animation: false,
    events: [],
    layout: {padding: {left: 0, right: 15, top: 9, bottom: 0}},
    plugins: {legend: {display: false}, tooltip: {enabled: false}},
    scales: {
      x: {
        type: 'linear', min: -25.285, max: 25.285,
        afterBuildTicks: oddTicks,
        afterFit: s => { s.height = 135; s.paddingLeft = 0; s.paddingRight = 0; },
        grid: {color: '#e4e4e4', lineWidth: 2, tickColor: '#222', tickWidth: 2, tickLength: 20},
        border: {color: '#111', width: 2},
        ticks: {font: tickFont, color: '#2b2b2b', padding: 17, maxRotation: 0, autoSkip: false, callback: v => String(v)},
        title: {display: true, text: 'New milk', font: titleFont, color: '#333', padding: {top: 0, bottom: 0}}
      },
      y: {
        type: 'linear', min: -26.08, max: 26.08,
        afterBuildTicks: oddTicks,
        afterFit: s => { s.width = 131; s.paddingTop = 0; s.paddingBottom = 0; },
        grid: {color: '#e4e4e4', lineWidth: 2, tickColor: '#222', tickWidth: 2, tickLength: 13},
        border: {color: '#111', width: 2},
        ticks: {font: tickFont, color: '#2b2b2b', padding: 10, autoSkip: false, callback: v => String(v)},
        title: {display: true, text: 'Old milk', font: titleFont, color: '#333', padding: {top: 12, bottom: 0}}
      }
    }
  },
  plugins: [framePlugin]
});
</script>
</body>
</html>
